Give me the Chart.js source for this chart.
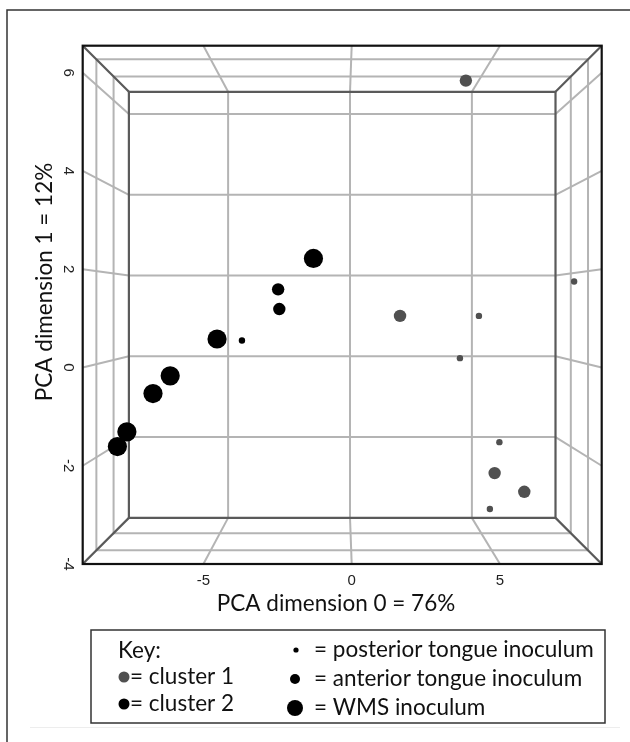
<!DOCTYPE html>
<html>
<head>
<meta charset="utf-8">
<script src="https://cdn.jsdelivr.net/npm/chart.js@4.4.1/dist/chart.umd.min.js"></script>
<style>
  html, body { margin: 0; padding: 0; background: #fff; }
  #wrap { position: relative; width: 630px; height: 742px; }
</style>
</head>
<body>
<div id="wrap"><canvas id="pca" width="630" height="742"></canvas></div>
<script>
// Axis ranges and tick values (front face of the box)
const xRange = [-9.07, 8.43];
const yRange = [-4, 6.55];
const zRange = [-1.4, 4.05];
const xTicks = [-5, 0, 5];
const yTicks = [-4, -2, 0, 2, 4, 6];
const zTicks = [0, 2];

// Cluster 2 (black) - WMS, anterior tongue, posterior tongue
const c2WmsX = [-1.29, -4.54, -6.12, -6.70, -7.58, -7.90];
const c2WmsY = [2.22, 0.58, -0.17, -0.53, -1.31, -1.61];
const c2AntX = [-2.48, -2.44];
const c2AntY = [1.59, 1.19];
const c2PostX = [-3.70];
const c2PostY = [0.55];

// Cluster 1 (grey) - anterior tongue, posterior tongue
const c1AntX = [3.85, 1.63, 4.82, 5.82];
const c1AntY = [5.84, 1.05, -2.15, -2.53];
const c1PostX = [4.29, 3.65, 7.50, 4.98, 4.66];
const c1PostY = [1.05, 0.19, 1.75, -1.52, -2.88];

const xTitle = 'PCA dimension 0 = 76%';
const yTitle = 'PCA dimension 1 = 12%';
const keyLeft = ['Key:', '= cluster 1', '= cluster 2'];
const keyRight = ['= posterior tongue inoculum', '= anterior tongue inoculum', '= WMS inoculum'];

const black = '#000000';
const grey = '#505050';
const backScale = 0.822; // size of the back face relative to the front face
const textFont = '22.5px Lato, "Open Sans", sans-serif';

const pts = (xs, ys) => xs.map((x, i) => ({ x: x, y: ys[i] }));

// perspective helper: t = 0 front face, t = 1 back face
function makeProj(chart) {
    const xs = chart.scales.x, ys = chart.scales.y;
    const a = chart.chartArea;
    const cx = (a.left + a.right) / 2, cy = (a.top + a.bottom) / 2;
    const k = 1 / backScale - 1;
    return (xv, yv, t) => {
        const s = 1 / (1 + k * t);
        return [cx + (xs.getPixelForValue(xv) - cx) * s, cy + (ys.getPixelForValue(yv) - cy) * s];
    };
}

function line(ctx, p, q) {
    ctx.beginPath();
    ctx.moveTo(p[0], p[1]);
    ctx.lineTo(q[0], q[1]);
    ctx.stroke();
}

const box3d = {
    id: 'box3d',
    beforeDatasetsDraw(chart) {
        const ctx = chart.ctx;
        const P = makeProj(chart);
        const [x0, x1] = xRange, [y0, y1] = yRange;
        const zt = z => (z - zRange[0]) / (zRange[1] - zRange[0]);
        const innerX = xTicks.filter(v => v > x0 && v < x1);
        const innerY = yTicks.filter(v => v > y0 && v < y1);
        ctx.save();
        ctx.lineCap = 'butt';

        // grid lines
        ctx.strokeStyle = '#b4b4b4';
        ctx.lineWidth = 2;
        // back face
        innerX.forEach(v => line(ctx, P(v, y0, 1), P(v, y1, 1)));
        innerY.forEach(v => line(ctx, P(x0, v, 1), P(x1, v, 1)));
        // side walls
        [x0, x1].forEach(xw => {
            innerY.forEach(v => line(ctx, P(xw, v, 0), P(xw, v, 1)));
            zTicks.forEach(z => line(ctx, P(xw, y0, zt(z)), P(xw, y1, zt(z))));
        });
        // floor and ceiling
        [y0, y1].forEach(yw => {
            innerX.forEach(v => line(ctx, P(v, yw, 0), P(v, yw, 1)));
            zTicks.forEach(z => line(ctx, P(x0, yw, zt(z)), P(x1, yw, zt(z))));
        });

        // back face outline and corner edges
        ctx.strokeStyle = '#5a5a5a';
        ctx.lineWidth = 2.2;
        const corners = [[x0, y0], [x1, y0], [x1, y1], [x0, y1]];
        ctx.beginPath();
        corners.forEach((c, i) => {
            const p = P(c[0], c[1], 1);
            if (i === 0) ctx.moveTo(p[0], p[1]); else ctx.lineTo(p[0], p[1]);
        });
        ctx.closePath();
        ctx.stroke();
        corners.forEach(c => line(ctx, P(c[0], c[1], 0), P(c[0], c[1], 1)));

        // front face outline
        ctx.strokeStyle = '#111';
        ctx.lineWidth = 2.2;
        const a = chart.chartArea;
        ctx.strokeRect(a.left, a.top, a.right - a.left, a.bottom - a.top);
        ctx.restore();
    },
    afterDraw(chart) {
        const ctx = chart.ctx;
        const xs = chart.scales.x, ys = chart.scales.y;
        const a = chart.chartArea;
        ctx.save();

        // page frame
        ctx.strokeStyle = '#333';
        ctx.lineWidth = 1.5;
        ctx.beginPath();
        ctx.moveTo(7, 742);
        ctx.lineTo(7, 10);
        ctx.lineTo(630, 10);
        ctx.stroke();
        ctx.strokeStyle = '#ededed';
        ctx.lineWidth = 1;
        line(ctx, [30, 727.5], [620, 727.5]);

        // tick labels
        ctx.fillStyle = '#222';
        ctx.font = '15px "Liberation Sans", Arial, sans-serif';
        ctx.textAlign = 'center';
        ctx.textBaseline = 'middle';
        xTicks.forEach(v => ctx.fillText(String(v), xs.getPixelForValue(v), a.bottom + 17));
        yTicks.forEach(v => {
            ctx.save();
            ctx.translate(a.left - 15, ys.getPixelForValue(v));
            ctx.rotate(Math.PI / 2);
            ctx.fillText(String(v), 0, 0);
            ctx.restore();
        });

        // axis titles
        ctx.fillStyle = '#111';
        ctx.font = textFont;
        ctx.fillText(xTitle, 336, 604);
        ctx.save();
        ctx.translate(45, 282);
        ctx.rotate(-Math.PI / 2);
        ctx.fillText(yTitle, 0, 0);
        ctx.restore();

        // key box
        ctx.strokeStyle = '#333';
        ctx.lineWidth = 1.5;
        ctx.strokeRect(91, 630, 514, 93);
        ctx.textAlign = 'left';
        ctx.fillText(keyLeft[0], 118, 651);
        ctx.fillText(keyLeft[1], 130, 677);
        ctx.fillText(keyLeft[2], 130, 704);
        ctx.fillText(keyRight[0], 314, 650);
        ctx.fillText(keyRight[1], 314, 679);
        ctx.fillText(keyRight[2], 314, 708);
        const dot = (x, y, r, c) => {
            ctx.fillStyle = c;
            ctx.beginPath();
            ctx.arc(x, y, r, 0, Math.PI * 2);
            ctx.fill();
        };
        dot(124, 677, 5.5, grey);
        dot(124, 704, 5.5, black);
        dot(296, 650, 2.6, black);
        dot(295, 679, 5, black);
        dot(295, 708, 8, black);
        ctx.restore();
    }
};

new Chart(document.getElementById('pca'), {
    type: 'scatter',
    data: {
        datasets: [
            { data: pts(c1PostX, c1PostY), backgroundColor: grey, pointRadius: 3.2 },
            { data: pts(c1AntX, c1AntY), backgroundColor: grey, pointRadius: 6.2 },
            { data: pts(c2PostX, c2PostY), backgroundColor: black, pointRadius: 3.2 },
            { data: pts(c2AntX, c2AntY), backgroundColor: black, pointRadius: 6.2 },
            { data: pts(c2WmsX, c2WmsY), backgroundColor: black, pointRadius: 9.6 }
        ]
    },
    options: {
        responsive: false,
        animation: false,
        devicePixelRatio: 1,
        layout: { padding: { left: 82.7, top: 45.7, right: 28.3, bottom: 178 } },
        elements: { point: { borderWidth: 0, hoverRadius: 0 } },
        plugins: { legend: { display: false }, tooltip: { enabled: false } },
        scales: {
            x: { type: 'linear', min: xRange[0], max: xRange[1], display: false },
            y: { type: 'linear', min: yRange[0], max: yRange[1], display: false }
        }
    },
    plugins: [box3d]
});
</script>
</body>
</html>
